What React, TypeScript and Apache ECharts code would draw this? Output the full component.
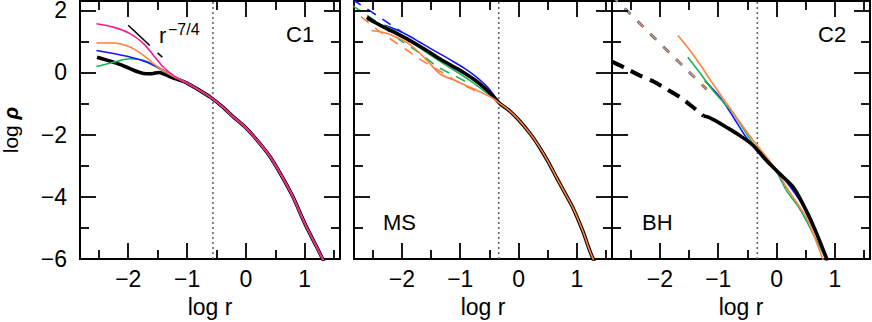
import React, { useEffect, useRef } from "react";
import * as echarts from "echarts";

const FONT = '"Liberation Sans", Arial, Helvetica, sans-serif';
const X_MIN = -2.82;
const X_MAX = 1.6;
const Y_MIN = -6;
const Y_MAX = 2.3;

// tick positions
const xMajorTicks = [-2, -1, 0, 1];
const xMinorTicks = [-2.5, -1.5, -0.5, 0.5, 1.5];
const yMajorTicks = [-6, -4, -2, 0, 2];
const yMinorTicks = [-5, -3, -1, 1];

// vertical dotted lines (one per panel)
const dottedX = [-0.56, -0.34, -0.33];

// reference slope r^-7/4
const slopeRef: number[][] = [[-2.0, 1.52], [-1.42, 0.49]];

// ---------- Panel C1 ----------
const c1Tail: number[][] = [
  [-1.0, -0.34], [-0.8, -0.56], [-0.6, -0.8], [-0.4, -1.1], [-0.2, -1.45], [0, -1.78],
  [0.2, -2.2], [0.4, -2.68], [0.6, -3.3], [0.8, -4.0], [1.0, -4.85], [1.2, -5.6], [1.33, -6.1],
];
const c1Black: number[][] = [
  [-2.53, 0.49], [-2.35, 0.39], [-2.2, 0.3], [-2.0, 0.15], [-1.85, 0.03], [-1.74, -0.03],
  [-1.6, -0.04], [-1.48, 0.0], [-1.38, -0.06], [-1.25, -0.16], [-1.1, -0.26],
];
const c1Pink: number[][] = [
  [-2.54, 1.57], [-2.25, 1.46], [-1.97, 1.25], [-1.74, 0.93], [-1.57, 0.55], [-1.4, 0.17], [-1.23, -0.1], [-1.1, -0.25],
];
const c1Orange: number[][] = [
  [-2.54, 0.95], [-2.25, 0.95], [-1.97, 0.82], [-1.74, 0.55], [-1.57, 0.28], [-1.4, 0.06], [-1.23, -0.13], [-1.1, -0.25],
];
const c1Blue: number[][] = [
  [-2.54, 0.71], [-2.02, 0.52], [-1.68, 0.33], [-1.45, 0.12], [-1.23, -0.13], [-1.1, -0.25],
];
const c1Green: number[][] = [
  [-2.54, 0.19], [-2.25, 0.33], [-1.97, 0.44], [-1.74, 0.39], [-1.51, 0.17], [-1.34, -0.02], [-1.23, -0.13], [-1.1, -0.25],
];

// ---------- Panel MS ----------
const msTail: number[][] = [
  [-0.32, -1.0], [-0.15, -1.24], [0, -1.52], [0.2, -1.97], [0.36, -2.41], [0.5, -2.85],
  [0.65, -3.38], [0.8, -3.9], [0.93, -4.35], [1.1, -5.1], [1.22, -5.74], [1.3, -6.1],
];
const msBlack: number[][] = [
  [-2.6, 1.78], [-2.45, 1.6], [-2.26, 1.41], [-2.1, 1.27], [-1.92, 1.09], [-1.7, 0.85], [-1.5, 0.62],
  [-1.35, 0.44], [-1.15, 0.22], [-0.95, 0.01], [-0.75, -0.24], [-0.6, -0.47], [-0.45, -0.73],
];
const msBlue: number[][] = [
  [-2.3, 1.52], [-2.1, 1.38], [-1.9, 1.2], [-1.7, 0.98], [-1.5, 0.76], [-1.3, 0.55], [-1.1, 0.33],
  [-0.9, 0.1], [-0.7, -0.18], [-0.5, -0.54],
];
const msGreen: number[][] = [
  [-2.6, 1.7], [-2.4, 1.56], [-2.2, 1.42], [-2.0, 1.2], [-1.8, 0.93], [-1.6, 0.67], [-1.4, 0.42],
  [-1.2, 0.18], [-1.0, -0.05], [-0.8, -0.3], [-0.6, -0.58], [-0.45, -0.78],
];
const msOrange: number[][] = [
  [-2.52, 1.35], [-2.35, 1.3], [-2.2, 1.22], [-1.9, 0.95], [-1.6, 0.45], [-1.35, -0.04],
  [-1.1, -0.25], [-0.84, -0.47], [-0.6, -0.68], [-0.45, -0.82],
];
const msBlueDash: number[][] = [[-2.85, 2.35], [-2.6, 2.05], [-2.4, 1.8], [-2.2, 1.55], [-2.0, 1.3]];
const msGreenDash: number[][] = [
  [-2.85, 2.15], [-2.6, 1.85], [-2.3, 1.45], [-2.0, 1.0], [-1.75, 0.7], [-1.4, 0.2], [-1.1, -0.1], [-0.8, -0.4],
];
const msOrangeDash: number[][] = [
  [-2.7, 1.8], [-2.4, 1.35], [-2.12, 0.98], [-1.9, 0.7], [-1.69, 0.42], [-1.35, 0.05], [-1.0, -0.35], [-0.7, -0.62],
];

// ---------- Panel BH ----------
const bhBlackDash: number[][] = [
  [-2.82, 0.35], [-2.6, 0.15], [-2.34, -0.1], [-2.1, -0.3], [-1.89, -0.53], [-1.65, -0.8], [-1.43, -1.12], [-1.25, -1.4],
];
const bhBlack: number[][] = [
  [-1.25, -1.4], [-1.15, -1.45], [-1.05, -1.55], [-0.86, -1.76], [-0.63, -2.03], [-0.4, -2.35], [-0.17, -2.84],
  [0.06, -3.27], [0.29, -3.7], [0.51, -4.45], [0.69, -5.2], [0.87, -6.05],
];
const bhColorDash: number[][] = [[-2.82, 2.46], [-1.2, -0.54]];
const bhOrange: number[][] = [
  [-1.69, 1.19], [-1.5, 0.75], [-1.32, 0.28], [-1.15, -0.2], [-0.97, -0.69], [-0.69, -1.44], [-0.4, -2.19],
  [-0.17, -2.73], [0.0, -3.15], [0.17, -3.7], [0.35, -4.2], [0.51, -4.67], [0.65, -5.3], [0.8, -6.05],
];
const bhGreen: number[][] = [
  [-1.52, 0.49], [-1.3, -0.05], [-1.09, -0.58], [-0.74, -1.33], [-0.4, -2.3], [-0.17, -2.8], [0.0, -3.2],
  [0.17, -3.8], [0.4, -4.4], [0.6, -5.1], [0.86, -6.05],
];
const bhBlue: number[][] = [
  [-1.23, -0.26], [-0.97, -0.8], [-0.74, -1.44], [-0.52, -2.09], [-0.29, -2.62], [0.06, -3.27],
  [0.4, -4.13], [0.63, -4.99], [0.86, -6.05],
];

const BLACK = "#000000";
const BLUE = "#1414ff";
const GREEN = "#19b35a";
const ORANGE = "#ff8040";
const PINK = "#ff1a8c";

const GRID_LEFTS = [80, 354, 612];
const GRID_WIDTHS = [260, 258, 258];
const GRID_TOP = 1;
const GRID_HEIGHT = 258;
const MAJOR_LEN = 16;
const MINOR_LEN = 9;

function fmt(v: number): string {
  if (Math.abs(v - Math.round(v)) > 1e-6) return "";
  const r = Math.round(v);
  return r < 0 ? "\u2212" + Math.abs(r) : String(r);
}

function line(g: number, data: number[][], color: string, width: number, dash?: any, z = 2) {
  return {
    type: "line",
    xAxisIndex: g,
    yAxisIndex: g,
    data,
    showSymbol: false,
    symbol: "none",
    smooth: 0.3,
    clip: true,
    z,
    lineStyle: { color, width, type: dash || "solid", cap: "butt", join: "round" },
    silent: true,
  };
}

function vline(g: number, x: number) {
  return {
    type: "line",
    xAxisIndex: g,
    yAxisIndex: g,
    data: [[x, Y_MIN], [x, Y_MAX]],
    showSymbol: false,
    symbol: "none",
    z: 1,
    silent: true,
    lineStyle: { color: "#666", width: 1.6, type: [2, 3] },
  };
}

// tick marks on all four sides, as segments in data space of the panel
function tickLines(g: number) {
  const pxX = GRID_WIDTHS[g] / (X_MAX - X_MIN);
  const pxY = GRID_HEIGHT / (Y_MAX - Y_MIN);
  const segs: any[] = [];
  const addX = (v: number, len: number) => {
    const dy = len / pxY;
    segs.push({ coords: [[v, Y_MIN], [v, Y_MIN + dy]] });
    segs.push({ coords: [[v, Y_MAX], [v, Y_MAX - dy]] });
  };
  const addY = (v: number, len: number) => {
    const dx = len / pxX;
    segs.push({ coords: [[X_MIN, v], [X_MIN + dx, v]] });
    segs.push({ coords: [[X_MAX, v], [X_MAX - dx, v]] });
  };
  xMajorTicks.forEach((v) => addX(v, MAJOR_LEN));
  xMinorTicks.forEach((v) => addX(v, MINOR_LEN));
  yMajorTicks.forEach((v) => addY(v, MAJOR_LEN));
  yMinorTicks.forEach((v) => addY(v, MINOR_LEN));
  return {
    type: "lines",
    coordinateSystem: "cartesian2d",
    xAxisIndex: g,
    yAxisIndex: g,
    polyline: false,
    silent: true,
    z: 6,
    symbol: "none",
    effect: { show: false },
    lineStyle: { color: "#000", width: 1.8, opacity: 1, curveness: 0 },
    data: segs,
  };
}

export default function App() {
  const ref = useRef<HTMLDivElement>(null);
  useEffect(() => {
    if (!ref.current) return;
    const chart = echarts.init(ref.current, undefined, { renderer: "svg" });
    const grid = GRID_LEFTS.map((l, i) => ({
      left: l,
      top: GRID_TOP,
      width: GRID_WIDTHS[i],
      height: GRID_HEIGHT,
      show: true,
      containLabel: false,
      outerBoundsMode: "none",
      borderColor: "#000",
      borderWidth: 2,
      backgroundColor: "transparent",
    }));
    const xAxis = GRID_LEFTS.map((_, i) => ({
      gridIndex: i,
      type: "value",
      position: "bottom",
      min: X_MIN,
      max: X_MAX,
      splitNumber: 5,
      axisLine: { show: false, onZero: false },
      axisTick: { show: false },
      splitLine: { show: false },
      axisLabel: {
        show: true,
        interval: 0,
        margin: 9,
        fontSize: 23,
        lineHeight: 22,
        color: "#000",
        fontFamily: FONT,
        formatter: fmt,
      },
      name: "log r",
      nameLocation: "middle",
      nameGap: 34,
      nameTextStyle: { fontSize: 23, color: "#000", fontFamily: FONT },
    }));
    const yAxis = GRID_LEFTS.map((_, i) => ({
      gridIndex: i,
      type: "value",
      position: "left",
      min: Y_MIN,
      max: Y_MAX,
      interval: 2,
      axisLine: { show: false, onZero: false },
      axisTick: { show: false },
      splitLine: { show: false },
      axisLabel: {
        show: i === 0,
        interval: 0,
        margin: 13,
        fontSize: 23,
        lineHeight: 19,
        color: "#000",
        fontFamily: FONT,
        formatter: fmt,
      },
      name: i === 0 ? "{a|log }{b|\u03c1}" : "",
      nameLocation: "middle",
      nameGap: 59,
      nameTextStyle: {
        fontSize: 21,
        color: "#000",
        fontFamily: FONT,
        rich: {
          a: { fontSize: 21, color: "#000", fontFamily: FONT },
          b: { fontSize: 21, color: "#000", fontFamily: FONT, fontStyle: "italic", fontWeight: "bold" },
        },
      },
    }));

    const series: any[] = [
      vline(0, dottedX[0]),
      vline(1, dottedX[1]),
      vline(2, dottedX[2]),
      // C1
      line(0, [...c1Black, ...c1Tail], BLACK, 3.6),
      line(0, [...c1Green, ...c1Tail], GREEN, 1.6, undefined, 3),
      line(0, [...c1Blue, ...c1Tail], BLUE, 1.6, undefined, 3),
      line(0, [...c1Orange, ...c1Tail], ORANGE, 1.6, undefined, 3),
      line(0, [...c1Pink, ...c1Tail], PINK, 1.6, undefined, 4),
      line(0, slopeRef, BLACK, 1.6, [29.5, 10.7, 6.4, 60], 4),
      // MS
      line(1, msOrangeDash, ORANGE, 1.6, [10, 8], 2),
      line(1, msGreenDash, GREEN, 1.6, [10, 8], 2),
      line(1, msBlueDash, BLUE, 1.6, [10, 8], 2),
      line(1, [...msBlue, ...msTail], BLUE, 1.6, undefined, 3),
      line(1, [...msGreen, ...msTail], GREEN, 1.6, undefined, 3),
      line(1, [...msBlack, ...msTail], BLACK, 3.6, undefined, 4),
      line(1, [...msOrange, ...msTail], ORANGE, 1.6, undefined, 5),
      // BH
      line(2, bhBlackDash, BLACK, 4, [13, 8], 2),
      line(2, bhColorDash, BLUE, 2.6, [8, 10], 3),
      line(2, bhColorDash, GREEN, 2.0, [8, 10], 3),
      line(2, bhColorDash, ORANGE, 1.5, [8, 10], 3),
      line(2, bhBlue, BLUE, 1.6, undefined, 3),
      line(2, bhGreen, GREEN, 1.6, undefined, 3),
      line(2, bhOrange, ORANGE, 1.6, undefined, 3),
      line(2, bhBlack, BLACK, 3.6, undefined, 4),
      tickLines(0),
      tickLines(1),
      tickLines(2),
    ];

    const txt = (text: string, x: number, y: number, size = 22) => ({
      type: "text",
      x,
      y,
      z: 10,
      style: { text, fontSize: size, fontFamily: FONT, fill: "#000", textAlign: "left", textVerticalAlign: "middle" },
    });

    chart.setOption({
      animation: false,
      backgroundColor: "#fff",
      grid,
      xAxis,
      yAxis,
      series,
      graphic: [
        txt("C1", 286, 34),
        txt("MS", 383, 222),
        txt("BH", 642, 222),
        txt("C2", 818, 34),
        txt("r", 159, 35, 22),
        txt("\u22127/4", 168, 29, 16),
      ],
    });
    return () => chart.dispose();
  }, []);
  return (
    <div
      ref={ref}
      style={{ position: "fixed", left: 0, top: 0, width: 872, height: 322, background: "#fff" }}
    />
  );
}
